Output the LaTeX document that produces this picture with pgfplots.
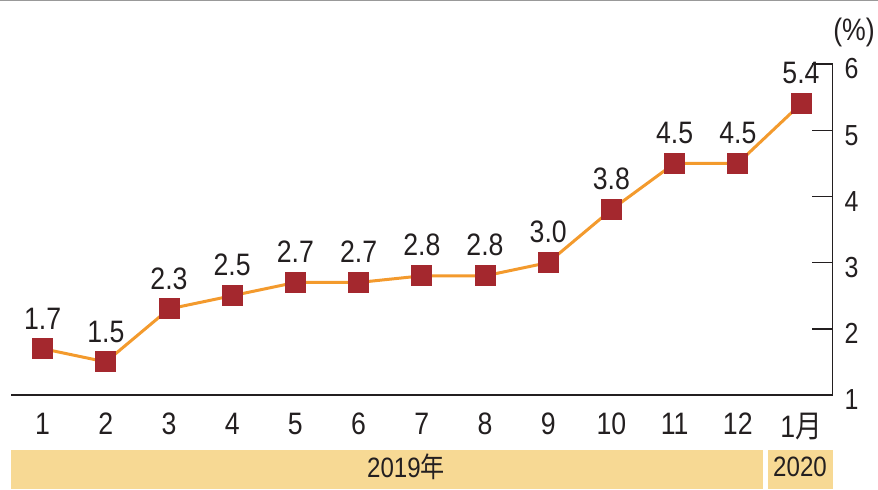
\documentclass[border=0pt]{standalone}
\usepackage{fontspec}
\setmainfont{Liberation Sans}[FakeStretch=0.86]
\newfontfamily\cjk{Noto Sans CJK SC}[FakeStretch=0.86]
\usepackage{pgfplots}
\pgfplotsset{compat=1.18}
\definecolor{lineor}{HTML}{F39A2D}
\definecolor{mk}{HTML}{A4282E}
\definecolor{band}{HTML}{F7D994}
\definecolor{ax}{HTML}{231F20}
\begin{document}
\begin{tikzpicture}
\begin{scope}[x=0.5pt,y=0.5pt]
\useasboundingbox (0,0) rectangle (878,489);
\draw[color=black!40, line width=1pt] (0,489)--(878,489);
\fill[band] (11,0) rectangle (763,39);
\fill[band] (768,0) rectangle (833,39);
\node[font=\fontsize{14}{16}\selectfont, text=ax] at (406,22) {2019\cjk 年};
\node[font=\fontsize{14}{16}\selectfont, text=ax] at (800,22) {2020};
\node[font=\fontsize{15.5}{18}\selectfont, text=ax] at (854,457) {(\%)};
\end{scope}
\begin{axis}[
  at={(5.5pt,47pt)}, anchor=south west,
  x=31.6pt, y=33.1pt,
  xmin=0.5, xmax=13.5, ymin=1, ymax=6,
  axis x line*=bottom, axis y line*=right,
  axis line style={-, draw=ax, line width=0.7pt},
  every tick/.style={draw=ax, line width=0.7pt},
  tick align=inside,
  xtick={1,...,13},
  xticklabels={1,2,3,4,5,6,7,8,9,10,11,12,1{\cjk 月}},
  xtick style={draw=none},
  minor xtick={0.5,1.5,...,12.5},
  minor tick length=4pt,
  major tick length=10.5pt,
  ytick={1,...,6},
  xticklabel style={font=\fontsize{15.5}{18}\selectfont, text=ax, yshift=-5.5pt},
  yticklabel style={font=\fontsize{14.5}{17}\selectfont, text=ax, anchor=west, xshift=2.5pt, yshift=-2.5pt},
  /pgf/number format/assume math mode=true,
  clip=false,
  nodes near coords={\pgfmathprintnumber[fixed,fixed zerofill,precision=1,assume math mode=true]{\pgfplotspointmeta}},
  every node near coord/.append style={anchor=south, inner sep=0pt, yshift=9.8pt, font=\fontsize{15.5}{18}\selectfont, text=ax},
]
\addplot[color=lineor, line width=1.5pt, mark=square*, mark size=5pt, mark options={draw=mk, fill=mk, line width=0pt}]
coordinates {(1,1.7)(2,1.5)(3,2.3)(4,2.5)(5,2.7)(6,2.7)(7,2.8)(8,2.8)(9,3.0)(10,3.8)(11,4.5)(12,4.5)(13,5.4)};
\end{axis}
\end{tikzpicture}
\end{document}
